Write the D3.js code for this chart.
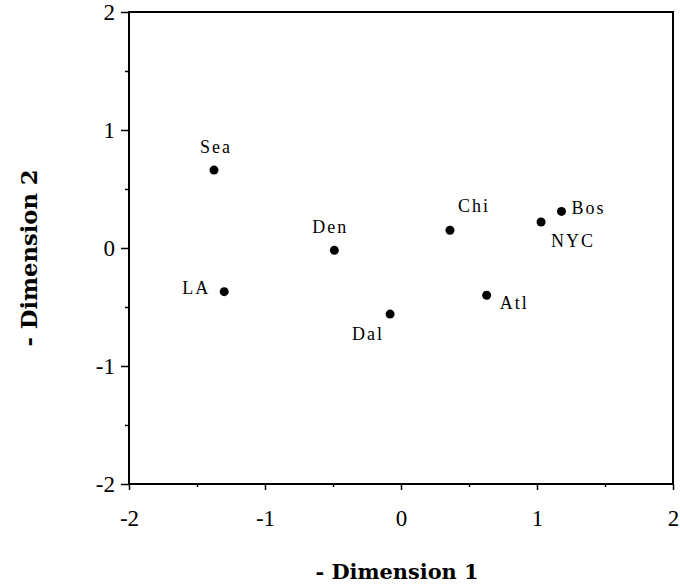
<!DOCTYPE html>
<html>
<head>
<meta charset="utf-8">
<script src="https://cdn.jsdelivr.net/npm/d3@7"></script>
<style>
  body { margin: 0; background: #fff; }
  svg { display: block; }
</style>
</head>
<body>
<svg id="chart" width="680" height="586"></svg>
<script>
// city coordinates on the two MDS dimensions
const cities = ["Sea", "LA", "Den", "Dal", "Chi", "Atl", "NYC", "Bos"];
const dim1 = [-1.375, -1.30, -0.49, -0.08, 0.36, 0.63, 1.03, 1.18];
const dim2 = [0.66, -0.37, -0.02, -0.56, 0.15, -0.40, 0.22, 0.31];
const majorTicks = [-2, -1, 0, 1, 2];
const minorTicks = [-1.5, -0.5, 0.5, 1.5];

// label placement next to each dot (px)
const labelPos = {
  Sea: [2, -17, "middle"],
  LA:  [-14, 2, "end"],
  Den: [-4, -17, "middle"],
  Dal: [-22, 26, "middle"],
  Chi: [8, -18, "start"],
  Atl: [13, 14, "start"],
  NYC: [10, 25, "start"],
  Bos: [10, 3, "start"]
};

const margin = { left: 129, right: 7, top: 12, bottom: 102 };
const width = 680, height = 586;

const svg = d3.select("#chart");

const x = d3.scaleLinear().domain([-2, 2]).range([margin.left, width - margin.right]);
const y = d3.scaleLinear().domain([-2, 2]).range([height - margin.bottom, margin.top]);

const serif = "'Liberation Serif', 'Times New Roman', serif";
const fmt = d => d < 0 ? "-" + Math.abs(d) : d;

// frame
svg.append("rect")
  .attr("x", x(-2)).attr("y", y(2))
  .attr("width", x(2) - x(-2)).attr("height", y(-2) - y(2))
  .attr("fill", "none").attr("stroke", "#000").attr("stroke-width", 2);

// bottom axis
const xAxis = svg.append("g")
  .attr("transform", `translate(0,${y(-2)})`)
  .call(d3.axisBottom(x).tickValues(majorTicks).tickSize(6).tickPadding(20).tickFormat(fmt));
xAxis.select(".domain").remove();
xAxis.selectAll("text").attr("font-family", serif).attr("font-size", 23).attr("fill", "#000");

svg.append("g")
  .attr("transform", `translate(0,${y(-2)})`)
  .call(d3.axisBottom(x).tickValues(minorTicks).tickSize(3).tickFormat(""))
  .select(".domain").remove();

// left axis
const yAxis = svg.append("g")
  .attr("transform", `translate(${x(-2)},0)`)
  .call(d3.axisLeft(y).tickValues(majorTicks).tickSize(8).tickPadding(6).tickFormat(fmt));
yAxis.select(".domain").remove();
yAxis.selectAll("text").attr("font-family", serif).attr("font-size", 23).attr("fill", "#000");

svg.append("g")
  .attr("transform", `translate(${x(-2)},0)`)
  .call(d3.axisLeft(y).tickValues(minorTicks).tickSize(4).tickFormat(""))
  .select(".domain").remove();

svg.selectAll(".tick line").attr("stroke", "#000").attr("stroke-width", 1.5);

// axis titles
svg.append("text")
  .attr("x", 397).attr("y", 579)
  .attr("text-anchor", "middle")
  .attr("font-family", "'DejaVu Serif', serif").attr("font-weight", "bold").attr("font-size", 21)
  .attr("textLength", 163).attr("lengthAdjust", "spacingAndGlyphs")
  .text("- Dimension 1");

svg.append("text")
  .attr("transform", "translate(37,258) rotate(-90)")
  .attr("text-anchor", "middle")
  .attr("font-family", "'DejaVu Serif', serif").attr("font-weight", "bold").attr("font-size", 23)
  .attr("textLength", 177).attr("lengthAdjust", "spacingAndGlyphs")
  .text("- Dimension 2");

// points
const pts = cities.map((c, i) => ({ name: c, d1: dim1[i], d2: dim2[i] }));

svg.append("g").selectAll("circle")
  .data(pts)
  .join("circle")
    .attr("cx", d => x(d.d1))
    .attr("cy", d => y(d.d2))
    .attr("r", 4.5)
    .attr("fill", "#000");

svg.append("g").selectAll("text")
  .data(pts)
  .join("text")
    .attr("x", d => x(d.d1) + labelPos[d.name][0])
    .attr("y", d => y(d.d2) + labelPos[d.name][1])
    .attr("text-anchor", d => labelPos[d.name][2])
    .attr("font-family", serif)
    .attr("font-size", 18)
    .attr("letter-spacing", 2)
    .attr("fill", "#000")
    .text(d => d.name);
</script>
</body>
</html>
